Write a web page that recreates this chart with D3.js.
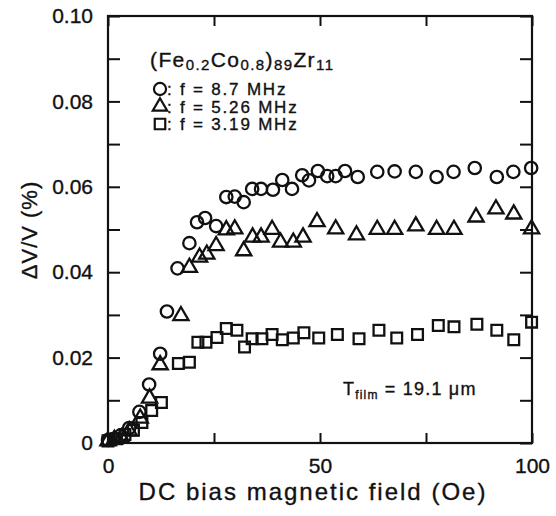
<!DOCTYPE html>
<html>
<head>
<meta charset="utf-8">
<script src="https://cdn.jsdelivr.net/npm/d3@7/dist/d3.min.js"></script>
<style>
  body { margin: 0; background: #fff; }
  text { font-family: "Liberation Sans", Arial, Helvetica, sans-serif; fill: #111; stroke: #111; stroke-width: 0.35; }
</style>
</head>
<body>
<div id="chart"></div>
<script>
// field (Oe), dV/V (%)
var circleData = [
  [0, 0.0007], [1.5, 0.001], [3, 0.0018], [5, 0.0035], [7.4, 0.0073], [9.7, 0.0137],
  [12.3, 0.0209], [13.9, 0.0308], [16.4, 0.0409], [19.2, 0.0468], [21.0, 0.0517],
  [22.9, 0.0527], [25.5, 0.0508], [27.9, 0.0576], [29.9, 0.0577], [32.0, 0.0564],
  [34.0, 0.0595], [36.1, 0.0595], [38.9, 0.0593], [41.1, 0.0616], [43.4, 0.0595],
  [45.8, 0.0627], [47.4, 0.0615], [49.5, 0.0637], [51.7, 0.0625], [53.7, 0.0625],
  [55.9, 0.0637], [58.9, 0.0623], [63.5, 0.0635], [67.6, 0.0636], [72.6, 0.0635],
  [77.5, 0.0623], [81.5, 0.0635], [86.5, 0.0644], [91.7, 0.0623], [95.6, 0.0635],
  [99.8, 0.0644]
];
var triangleData = [
  [0, 0.0005], [1.5, 0.0008], [3.2, 0.0012], [5, 0.0028], [7.6, 0.0058], [9.8, 0.0105],
  [12.3, 0.0183], [17.2, 0.0298], [19.2, 0.0411], [21.6, 0.0435], [23.3, 0.0442],
  [25.5, 0.0462], [27.9, 0.0499], [29.9, 0.0501], [32.0, 0.0450], [34.1, 0.0482],
  [36.1, 0.0482], [38.7, 0.0500], [40.7, 0.0470], [43.7, 0.0470], [46.0, 0.0482],
  [49.3, 0.0518], [53.7, 0.0501], [58.6, 0.0487], [63.5, 0.0500], [67.6, 0.0500],
  [72.6, 0.0508], [77.5, 0.0500], [81.6, 0.0500], [86.8, 0.0529], [91.5, 0.0548],
  [95.7, 0.0536], [99.9, 0.0501]
];
var squareData = [
  [0, 0.0005], [2, 0.001], [4, 0.002], [6, 0.003], [8, 0.0048], [10.3, 0.0076],
  [12.6, 0.0095], [16.6, 0.0186], [19.2, 0.0189], [21.2, 0.0236], [23.1, 0.0236],
  [25.7, 0.0247], [27.9, 0.0268], [30.4, 0.0264], [32.2, 0.0225], [34.0, 0.0244],
  [36.3, 0.0244], [38.7, 0.0254], [41.1, 0.0242], [43.7, 0.0246], [46.2, 0.0258],
  [49.7, 0.0246], [54.1, 0.0254], [59.2, 0.0244], [63.9, 0.0264], [68.1, 0.0246],
  [73.0, 0.0254], [77.9, 0.0275], [81.6, 0.0272], [87.0, 0.0278], [91.7, 0.0264],
  [95.7, 0.0242], [99.9, 0.0283]
];
var xTicks = [0, 25, 50, 75, 100];
var xLabels = [0, 50, 100];
var yTicks = [0, 0.01, 0.02, 0.03, 0.04, 0.05, 0.06, 0.07, 0.08, 0.09, 0.10];
var yLabels = [0, 0.02, 0.04, 0.06, 0.08, 0.10];
var legendItems = [
  {shape: d3.symbolCircle, size: 115, label: ": f = 8.7 MHz"},
  {shape: d3.symbolTriangle, size: 90, label: ": f = 5.26 MHz"},
  {shape: d3.symbolSquare, size: 110, label: ": f = 3.19 MHz"}
];

var width = 556, height = 516;
var margin = {top: 16, right: 24, bottom: 73, left: 108};

var svg = d3.select("#chart").append("svg")
    .attr("width", width)
    .attr("height", height);

var x = d3.scaleLinear().domain([0, 100]).range([margin.left, width - margin.right]);
var y = d3.scaleLinear().domain([0, 0.10]).range([height - margin.bottom, margin.top]);

var fmtY = function(d){ return d === 0 ? "0" : (yLabels.indexOf(d) >= 0 ? d3.format(".2f")(d) : ""); };
var fmtX = function(d){ return xLabels.indexOf(d) >= 0 ? d : ""; };

function styleAxis(g){
    g.select(".domain").remove();
    g.selectAll("line").attr("stroke", "#111").attr("stroke-width", 2);
}

// bottom / left with labels
svg.append("g")
    .attr("transform", "translate(0," + y(0) + ")")
    .call(d3.axisBottom(x).tickValues(xTicks).tickSize(-10).tickPadding(15).tickFormat(fmtX))
    .call(styleAxis)
    .selectAll("text").attr("font-size", 21).attr("fill", "#111");

svg.append("g")
    .attr("transform", "translate(" + x(0) + ",0)")
    .call(d3.axisLeft(y).tickValues(yTicks).tickSize(-12).tickPadding(15).tickFormat(fmtY))
    .call(styleAxis)
    .selectAll("text").attr("font-size", 21).attr("fill", "#111");

// top / right ticks only
svg.append("g")
    .attr("transform", "translate(0," + y(0.10) + ")")
    .call(d3.axisTop(x).tickValues(xTicks).tickSize(-10).tickFormat(""))
    .call(styleAxis);

svg.append("g")
    .attr("transform", "translate(" + x(100) + ",0)")
    .call(d3.axisRight(y).tickValues(yTicks).tickSize(-12).tickFormat(""))
    .call(styleAxis);

svg.append("rect")
    .attr("x", x(0)).attr("y", y(0.10))
    .attr("width", x(100) - x(0)).attr("height", y(0) - y(0.10))
    .attr("fill", "none").attr("stroke", "#111").attr("stroke-width", 2.2);

// markers
var series = [
  {data: circleData, shape: d3.symbolCircle, size: 120},
  {data: triangleData, shape: d3.symbolTriangle, size: 100},
  {data: squareData, shape: d3.symbolSquare, size: 115}
];

series.forEach(function(s){
    svg.append("g").selectAll("path")
        .data(s.data)
        .enter()
        .append("path")
        .attr("d", d3.symbol().type(s.shape).size(s.size))
        .attr("transform", function(d){ return "translate(" + x(d[0]) + "," + y(d[1]) + ")"; })
        .attr("fill", "none")
        .attr("stroke", "#111")
        .attr("stroke-width", 2.3);
});

// axis titles
svg.append("text")
    .attr("x", 313)
    .attr("y", 500)
    .attr("text-anchor", "middle")
    .attr("font-size", 24)
    .attr("letter-spacing", 2)
    .text("DC bias magnetic field (Oe)");

svg.append("text")
    .attr("transform", "translate(37,230) rotate(-90)")
    .attr("text-anchor", "middle")
    .attr("font-size", 22)
    .attr("letter-spacing", 1)
    .text("ΔV/V (%)");

// legend
var title = svg.append("text")
    .attr("x", 150).attr("y", 67)
    .attr("font-size", 21)
    .attr("letter-spacing", 1.4);
title.append("tspan").text("(Fe");
title.append("tspan").attr("font-size", 15).attr("dy", 3).text("0.2");
title.append("tspan").attr("dy", -3).text("Co");
title.append("tspan").attr("font-size", 15).attr("dy", 3).text("0.8");
title.append("tspan").attr("dy", -3).text(")");
title.append("tspan").attr("font-size", 15).attr("dy", 3).text("89");
title.append("tspan").attr("dy", -3).text("Zr");
title.append("tspan").attr("font-size", 15).attr("dy", 3).text("11");

var leg = svg.append("g").selectAll("g")
    .data(legendItems)
    .enter()
    .append("g")
    .attr("transform", function(d, i){ return "translate(160," + (89 + i * 17.5) + ")"; });

leg.append("path")
    .attr("d", function(d){ return d3.symbol().type(d.shape).size(d.size)(); })
    .attr("fill", "none")
    .attr("stroke", "#111")
    .attr("stroke-width", 2.2);

leg.append("text")
    .attr("x", 7).attr("y", 6)
    .attr("font-size", 17)
    .attr("letter-spacing", 1.8)
    .text(function(d){ return d.label; });

// film thickness
var tf = svg.append("text")
    .attr("x", 343).attr("y", 395)
    .attr("font-size", 18)
    .attr("letter-spacing", 1.2);
tf.append("tspan").text("T");
tf.append("tspan").attr("font-size", 12).attr("dy", 4).text("film");
tf.append("tspan").attr("dy", -4).text(" = 19.1 μm");
</script>
</body>
</html>
